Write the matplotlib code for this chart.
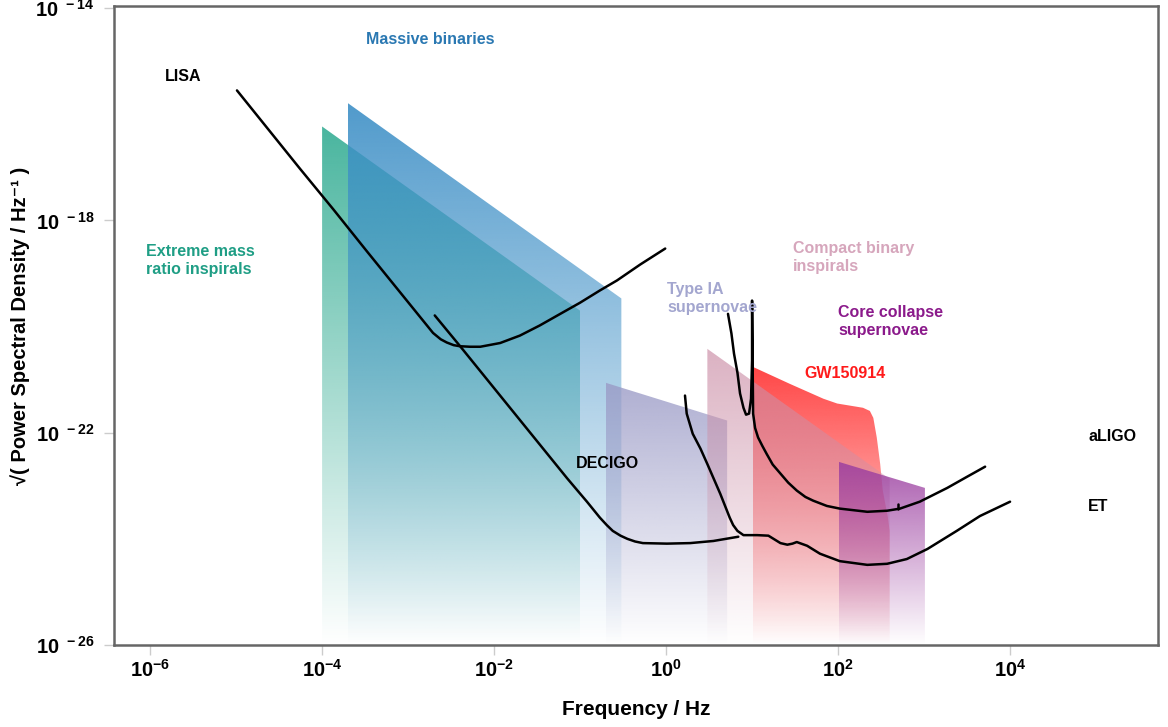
import numpy as np
import matplotlib.pyplot as plt
from matplotlib.patches import Polygon
from matplotlib.transforms import Affine2D
from matplotlib.ticker import NullLocator
from matplotlib.colors import to_rgb

plt.rcParams['font.family'] = ['Liberation Sans', 'DejaVu Sans']
plt.rcParams['font.weight'] = 'bold'
plt.rcParams['mathtext.fontset'] = 'custom'
plt.rcParams['mathtext.rm'] = 'Liberation Sans'
plt.rcParams['mathtext.bf'] = 'Liberation Sans:bold'

# all values are log10 (frequency in Hz, amplitude)
LX0, LX1 = -6.42, 5.72
LY0, LY1 = -26.0, -13.96
xtick_exp = [-6, -4, -2, 0, 2, 4]
ytick_exp = [-14, -18, -22, -26]

# detector sensitivity curves
lisa_f = [-4.99, -4.26, -3.87, -3.48, -3.09, -2.86, -2.71, -2.62, -2.55, -2.47, -2.40, -2.28, -2.16,
          -1.93, -1.70, -1.47, -1.23, -1.00, -0.77, -0.57, -0.30, -0.01]
lisa_h = [-15.55, -17.02, -17.79, -18.58, -19.36, -19.82, -20.12, -20.24, -20.30, -20.35, -20.37, -20.38, -20.38,
          -20.31, -20.17, -19.98, -19.76, -19.55, -19.32, -19.13, -18.83, -18.53]

decigo_f = [-2.69, -2.40, -1.93, -1.55, -1.15, -1.03, -0.92, -0.84, -0.77, -0.69, -0.62, -0.53, -0.45,
            -0.36, -0.27, 0.01, 0.28, 0.55, 0.84]
decigo_h = [-19.79, -20.36, -21.30, -22.06, -22.86, -23.09, -23.30, -23.46, -23.60, -23.74, -23.85, -23.94, -24.00,
            -24.05, -24.08, -24.09, -24.08, -24.04, -23.96]

aligo_f = [0.72, 0.76, 0.79, 0.83, 0.86, 0.90, 0.93, 0.965, 0.988, 1.00, 1.00, 1.012, 1.035, 1.07, 1.12,
           1.17, 1.24, 1.33, 1.42, 1.52, 1.62, 1.71, 1.87, 2.02, 2.34, 2.57, 2.72, 2.95, 3.27, 3.50, 3.71]
aligo_h = [-19.76, -20.13, -20.51, -20.87, -21.26, -21.53, -21.66, -21.64, -21.36, -20.64, -19.51, -21.64, -21.91, -22.09, -22.25,
           -22.40, -22.60, -22.77, -22.94, -23.09, -23.21, -23.28, -23.38, -23.43, -23.49, -23.47, -23.43, -23.30, -23.04, -22.83, -22.64]
aligo_tick_f = [2.70, 2.70]
aligo_tick_h = [-23.34, -23.44]

et_f = [0.22, 0.24, 0.31, 0.40, 0.48, 0.63, 0.74, 0.78, 0.83, 0.90, 1.06, 1.19, 1.33, 1.41, 1.47, 1.52,
        1.64, 1.79, 2.02, 2.34, 2.57, 2.80, 3.04, 3.38, 3.65, 4.00]
et_h = [-21.30, -21.64, -22.02, -22.30, -22.59, -23.15, -23.60, -23.74, -23.85, -23.93, -23.93, -23.94, -24.08, -24.11, -24.09, -24.06,
        -24.13, -24.28, -24.42, -24.49, -24.47, -24.38, -24.19, -23.85, -23.57, -23.30]

# source regions: left/right frequency and top edge
emri_f = [-4.00, -1.00]
emri_top = [-16.23, -19.70]
mbh_f = [-3.70, -0.52]
mbh_top = [-15.79, -19.47]
sn1a_f = [-0.70, 0.71]
sn1a_top = [-21.06, -21.77]
cbc_f = [0.48, 2.60]
cbc_top = [-20.42, -22.87]
ccsn_f = [2.01, 3.01]
ccsn_top = [-22.55, -23.04]
gw_f = [1.01, 1.44, 1.83, 1.99, 2.14, 2.29, 2.37, 2.41, 2.45, 2.49, 2.52, 2.58, 2.60]
gw_top = [-20.76, -21.08, -21.36, -21.45, -21.49, -21.53, -21.59, -21.72, -22.09, -22.59, -23.09, -23.60, -23.85]

fig = plt.figure(figsize=(11.68, 7.27), dpi=100)
ax = fig.add_axes([0.0976, 0.1128, 0.8938, 0.8789])
ax.set_xscale('log')
ax.set_yscale('log')
ax.set_xlim(10.0**LX0, 10.0**LX1)
ax.set_ylim(10.0**LY0, 10.0**LY1)
ax.set_autoscale_on(False)

# maps log10 coords to axes fraction, used for the gradient images
log_axes = Affine2D().translate(-LX0, -LY0).scale(1 / (LX1 - LX0), 1 / (LY1 - LY0)) + ax.transAxes


def shade(fx, top, color, alpha):
    fx = list(fx)
    top = list(top)
    xs = np.array(fx + [fx[-1], fx[0]])
    ys = np.array(top + [LY0, LY0])
    patch = Polygon(np.column_stack([10.0**xs, 10.0**ys]), closed=True,
                    facecolor='none', edgecolor='none')
    ax.add_patch(patch)
    grad = np.zeros((400, 2, 4))
    grad[..., :3] = to_rgb(color)
    grad[..., 3] = alpha * np.linspace(0, 1, 400)[:, None]
    im = ax.imshow(grad, origin='lower', aspect='auto', interpolation='bilinear',
                   extent=[min(fx), max(fx), LY0, max(top)], transform=log_axes, zorder=1)
    im.set_clip_path(patch)


shade(emri_f, emri_top, '#35ad94', 0.9)
shade(mbh_f, mbh_top, '#3d8fc6', 0.9)
shade(sn1a_f, sn1a_top, '#9a9ac6', 0.8)
shade(gw_f, gw_top, '#ff3c3c', 0.95)
shade(cbc_f, cbc_top, '#cc90a8', 0.7)
shade(ccsn_f, ccsn_top, '#9b3ea0', 0.85)

for f, h in [(lisa_f, lisa_h), (decigo_f, decigo_h), (aligo_f, aligo_h),
             (et_f, et_h), (aligo_tick_f, aligo_tick_h)]:
    ax.plot(10.0**np.array(f), 10.0**np.array(h), color='black', lw=1.8,
            solid_joinstyle='round', solid_capstyle='round', zorder=3)

labels = [
    ('LISA', 0.0489, 0.889, 'black'),
    ('Massive binaries', 0.2414, 0.9484, '#2a78b2'),
    ('Extreme mass\nratio inspirals', 0.0307, 0.601, '#1f9e85'),
    ('Type IA\nsupernovae', 0.5297, 0.543, '#a3a6cf'),
    ('Compact binary\ninspirals', 0.6504, 0.6072, '#d6a6bc'),
    ('Core collapse\nsupernovae', 0.6935, 0.507, '#8b1a8b'),
    ('GW150914', 0.661, 0.4256, '#ff1a1a'),
    ('DECIGO', 0.4425, 0.2833, 'black'),
    ('aLIGO', 0.933, 0.327, 'black'),
    ('ET', 0.933, 0.2175, 'black'),
]
for txt, x, y, c in labels:
    ax.text(x, y, txt, transform=ax.transAxes, ha='left', va='center', color=c,
            fontsize=11.5, fontweight='bold', linespacing=1.25, zorder=4)

ax.set_xticks([10.0**k for k in xtick_exp],
              [r'$\mathbf{10^{%d}}$' % k for k in xtick_exp])
ax.set_yticks([10.0**k for k in ytick_exp],
              [r'$\mathbf{10^{\ %d}}$' % k for k in ytick_exp])
ax.xaxis.set_minor_locator(NullLocator())
ax.yaxis.set_minor_locator(NullLocator())
ax.tick_params(direction='out', length=7, width=1, color='#cccccc', labelsize=14.5)
ax.tick_params(axis='x', pad=3)
ax.tick_params(axis='y', pad=7)

for s in ax.spines.values():
    s.set_color('#666666')
    s.set_linewidth(1.8)

ax.set_xlabel('Frequency / Hz', fontsize=15, fontweight='bold')
ax.xaxis.set_label_coords(0.5, -0.086)
ax.set_ylabel('√( Power Spectral Density / Hz⁻¹ )', fontsize=14.5, fontweight='bold')
ax.yaxis.set_label_coords(-0.0805, 0.5)

fig.savefig('out.png', dpi=100)
